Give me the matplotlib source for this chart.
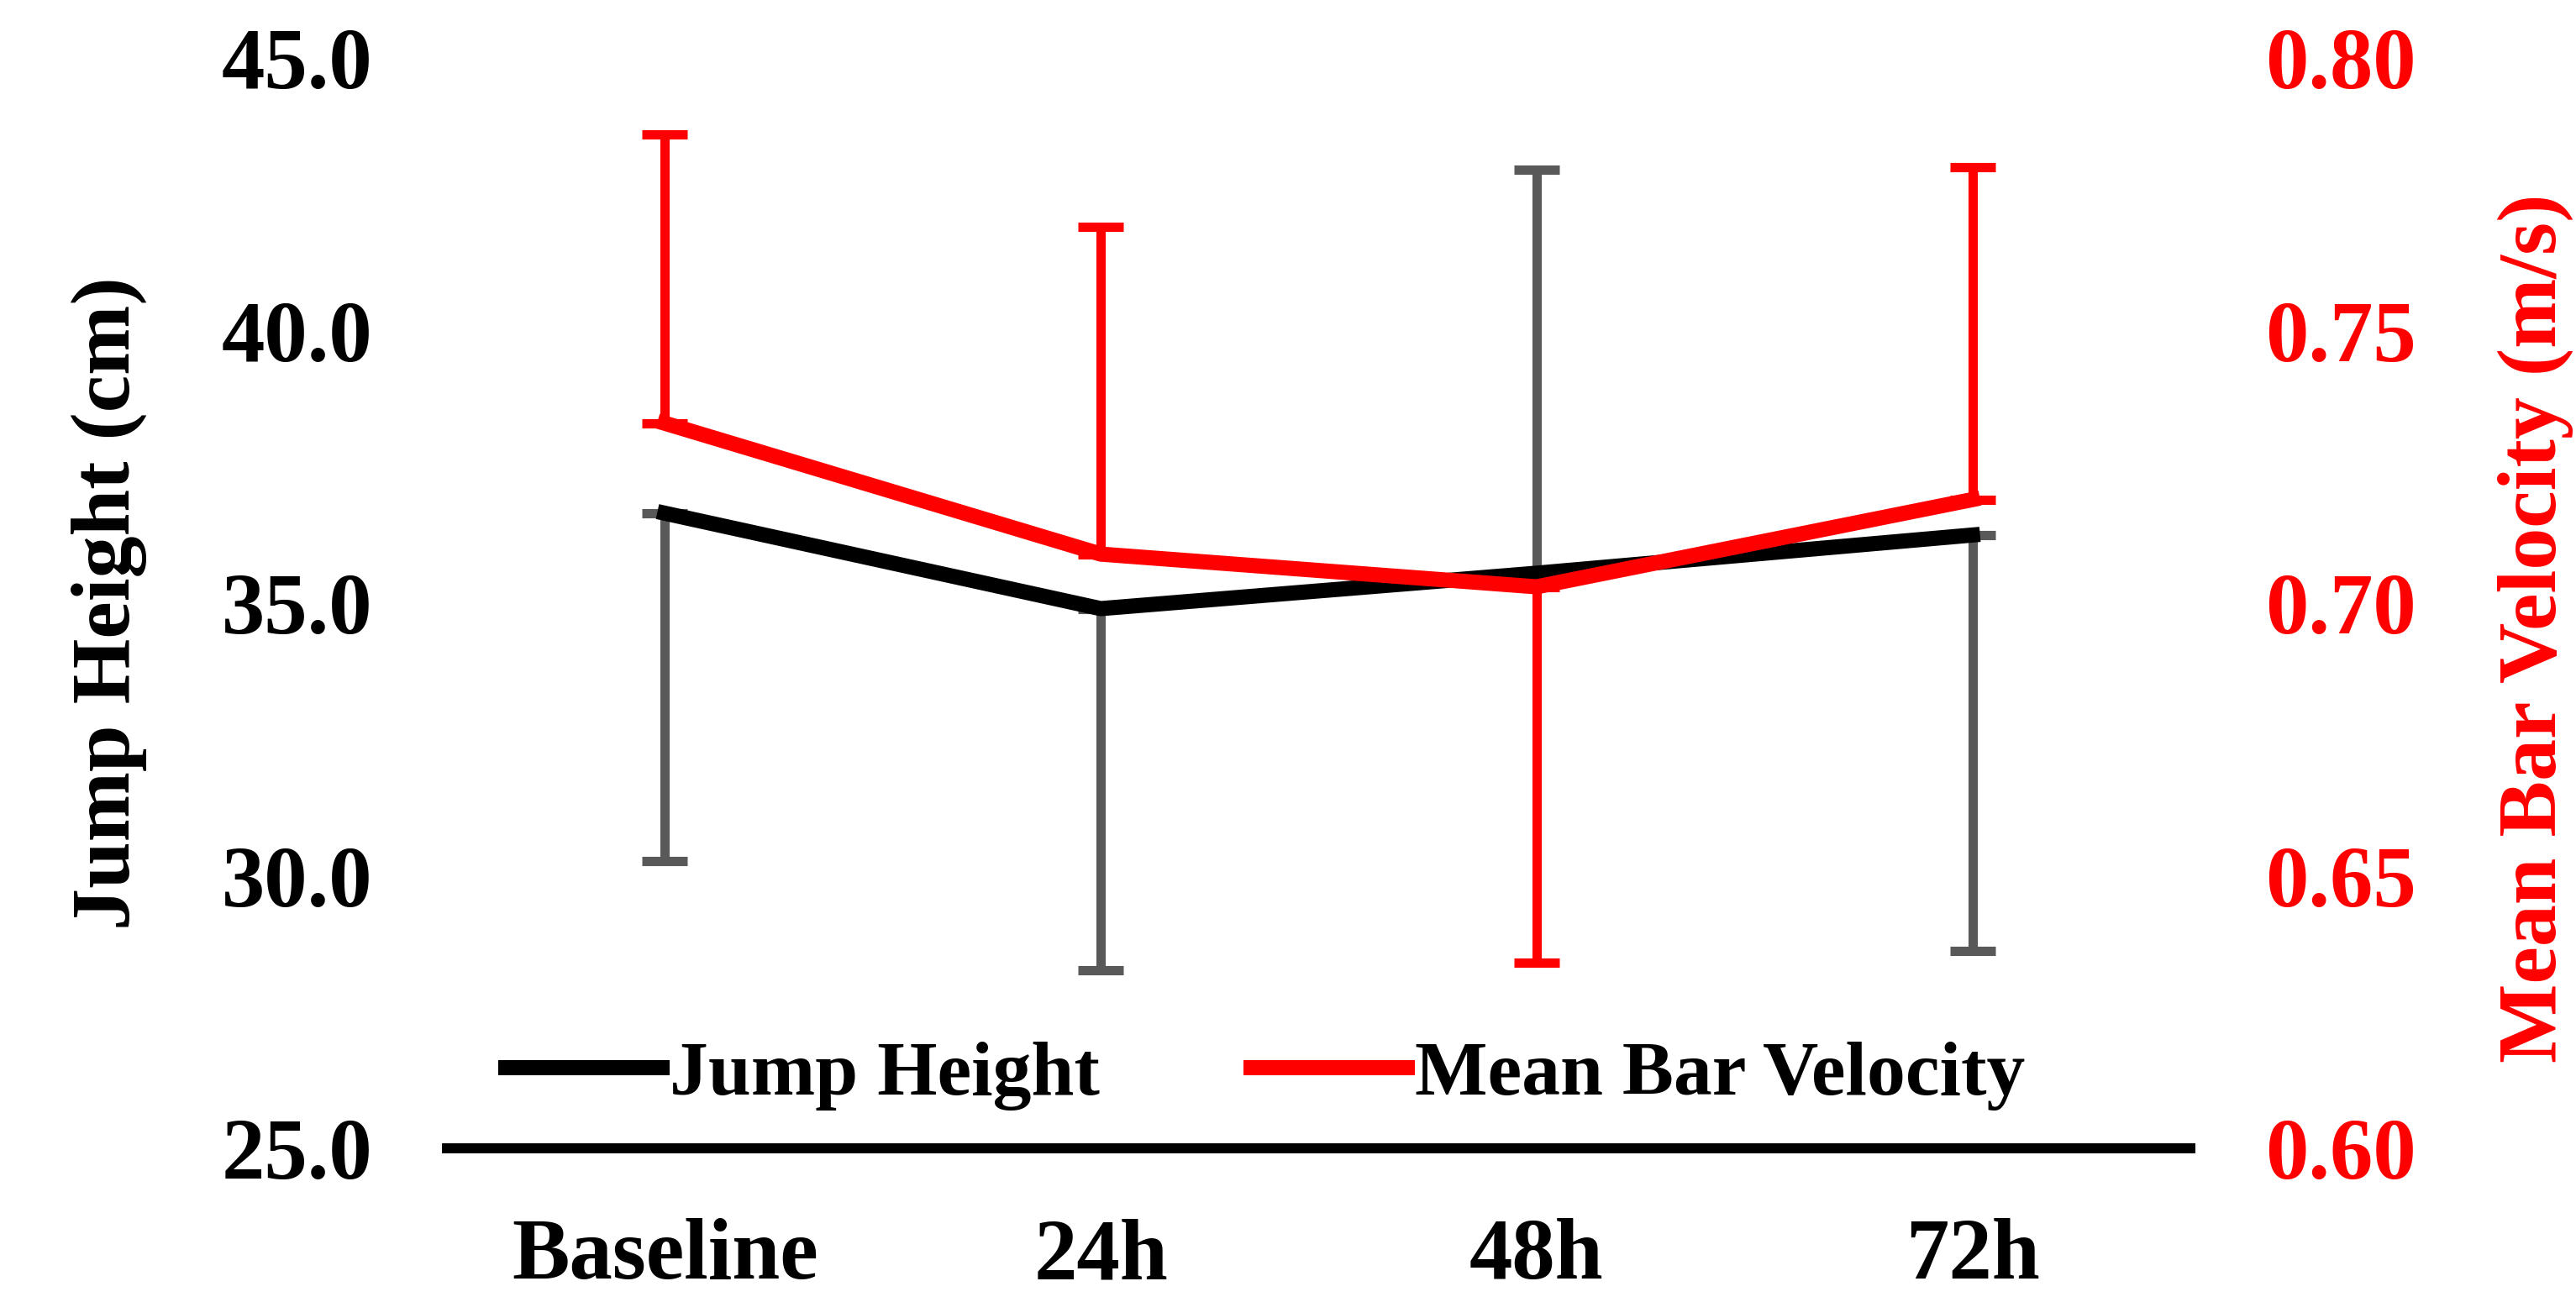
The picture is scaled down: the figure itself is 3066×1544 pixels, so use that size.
import matplotlib
matplotlib.use("Agg")
import matplotlib.pyplot as plt
import numpy as np

plt.rcParams['font.family'] = ['Liberation Serif', 'DejaVu Serif']
plt.rcParams['font.weight'] = 'bold'

timepoints = ['Baseline', '24h', '48h', '72h']

jump_mean = [36.65, 34.90, 35.55, 36.25]
jump_sd = [6.38, 6.63, 7.40, 7.63]
jump_dir = [-1, -1, 1, -1]      # which side the error bar is drawn

mbv_mean = [0.733, 0.709, 0.703, 0.719]
mbv_sd = [0.053, 0.060, 0.069, 0.061]
mbv_dir = [1, 1, -1, 1]

left_ticks = [25.0, 30.0, 35.0, 40.0, 45.0]
right_ticks = [0.60, 0.65, 0.70, 0.75, 0.80]

red = '#FF0000'
grey = '#595959'

fig = plt.figure(figsize=(15.33, 7.72), dpi=200)
ax = fig.add_axes([0.1735, 0.1146, 0.8503 - 0.1735, 0.9553 - 0.1146])
ax2 = ax.twinx()

x = np.arange(len(timepoints))


def one_sided(sd, d):
    sd = np.array(sd)
    d = np.array(d)
    lo = np.where(d < 0, sd, 0.0)
    hi = np.where(d > 0, sd, 0.0)
    return [lo, hi]


ax.errorbar(x, jump_mean, yerr=one_sided(jump_sd, jump_dir), fmt='none',
            ecolor=grey, elinewidth=4, capsize=9.7, capthick=4, zorder=2)
l1, = ax.plot(x, jump_mean, color='black', lw=6.5, solid_joinstyle='round',
              zorder=3, label='Jump Height')

ax2.errorbar(x, mbv_mean, yerr=one_sided(mbv_sd, mbv_dir), fmt='none',
             ecolor=red, elinewidth=4, capsize=9.7, capthick=4, zorder=2)
l2, = ax2.plot(x, mbv_mean, color=red, lw=6.5, solid_joinstyle='round',
               zorder=3, label='Mean Bar Velocity')

ax.set_xlim(-0.5, 3.5)
ax.set_ylim(25, 45)
ax2.set_ylim(0.60, 0.80)

ax.set_xticks(x)
ax.set_xticklabels(timepoints, fontsize=37, fontweight='bold')
ax.set_yticks(left_ticks)
ax.set_yticklabels([f'{v:.1f}' for v in left_ticks], fontsize=37, fontweight='bold')
ax2.set_yticks(right_ticks)
ax2.set_yticklabels([f'{v:.2f}' for v in right_ticks], fontsize=37,
                    fontweight='bold', color=red)

ax.tick_params(axis='x', length=0, pad=30)
ax.tick_params(axis='y', length=0, pad=32)
ax2.tick_params(axis='y', length=0, pad=32)

for a in (ax, ax2):
    for s in ('top', 'left', 'right', 'bottom'):
        a.spines[s].set_visible(False)
ax.spines['bottom'].set_visible(True)
ax.spines['bottom'].set_linewidth(4.3)
ax.spines['bottom'].set_color('black')

fig.text(130 / 3066, 0.535, 'Jump Height (cm)', rotation=90, fontsize=36,
         fontweight='bold', ha='center', va='center')
fig.text(3018 / 3066, 0.5155, 'Mean Bar Velocity (m/s)', rotation=90,
         fontsize=36, fontweight='bold', color=red, ha='center', va='center')

leg = fig.legend([l1, l2], ['Jump Height', 'Mean Bar Velocity'], ncol=2,
                 loc='center left', bbox_to_anchor=(602 / 3066, (1544 - 1280) / 1544),
                 frameon=False, fontsize=33, handlelength=2.03, handletextpad=0.1,
                 columnspacing=1.96, borderpad=0, borderaxespad=0)
for t in leg.get_texts():
    t.set_fontweight('bold')

fig.savefig('out.png', dpi=200)
